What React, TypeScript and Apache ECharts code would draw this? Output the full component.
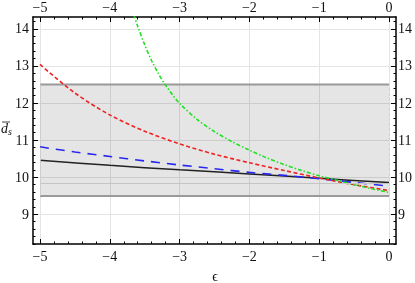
import React, { useEffect, useRef } from "react";
import * as echarts from "echarts";

// ---- data ----
const xTicks = [-5, -4, -3, -2, -1, 0];
const yTicks = [9, 10, 11, 12, 13, 14];

const epsBlack = [-5, -4, -3, -2, -1, 0];
const blackVals = [10.46, 10.32, 10.2, 10.09, 9.97, 9.86];

const epsHalf = [-5, -4.5, -4, -3.5, -3, -2.5, -2, -1.5, -1, -0.5, 0];
const blueVals = [10.82, 10.68, 10.56, 10.44, 10.33, 10.23, 10.13, 10.05, 9.96, 9.86, 9.76];
const redVals = [13.04, 12.27, 11.68, 11.24, 10.9, 10.62, 10.39, 10.18, 9.98, 9.8, 9.64];

const epsGreen = [-3.7, -3.6, -3.5, -3.4, -3.3, -3.2, -3.1, -3, -2.75, -2.5, -2.25, -2, -1.75, -1.5, -1.25, -1, -0.75, -0.5, -0.25, 0];
const greenVals = [14.63, 14.07, 13.57, 13.14, 12.78, 12.48, 12.22, 11.99, 11.56, 11.23, 10.96, 10.73, 10.52, 10.34, 10.18, 10.04, 9.92, 9.8, 9.69, 9.59];

const bandX = [-5, 0];
const bandY = [9.5, 12.5];
const bandInner = 9.83;

const X_MIN = -5.1;
const X_MAX = 0.1;
const Y_MIN = 8.2;
const Y_MAX = 14.32;

const xMinor: number[] = [];
for (let i = 0; i <= 25; i++) xMinor.push(Math.round((-5 + i * 0.2) * 10) / 10);
const yMinor: number[] = [];
for (let i = 0; i <= 30; i++) yMinor.push(Math.round((8.2 + i * 0.2) * 10) / 10);

const FONT = "'Liberation Serif', 'DejaVu Serif', serif";
const fmt = (v: number) => (v < 0 ? "\u2212" + Math.abs(v) : String(Math.round(v)));

function pairs(xs: number[], ys: number[]) {
  return xs.map((x, i) => [x, ys[i]]);
}

function xAxis(pos: string, ticks: number[], len: number, labels: boolean, split: boolean, line: boolean) {
  return {
    type: "value",
    min: X_MIN,
    max: X_MAX,
    position: pos,
    axisLine: { show: line, onZero: false, lineStyle: { color: "#000", width: 1.5 } },
    axisTick: { show: true, inside: true, length: len, customValues: ticks, lineStyle: { color: "#000", width: 1 } },
    axisLabel: labels
      ? { show: true, customValues: xTicks, formatter: fmt, margin: pos === "top" ? 3 : 5, fontFamily: FONT, fontSize: 14, color: "#111" }
      : { show: false },
    splitLine: { show: split, lineStyle: { color: "#e4e4e4", width: 1 } },
  };
}

function yAxis(pos: string, ticks: number[], len: number, labels: boolean, split: boolean, line: boolean) {
  return {
    type: "value",
    min: Y_MIN,
    max: Y_MAX,
    position: pos,
    axisLine: { show: line, onZero: false, lineStyle: { color: "#000", width: 1.5 } },
    axisTick: { show: true, inside: true, length: len, customValues: ticks, lineStyle: { color: "#000", width: 1 } },
    axisLabel: labels
      ? { show: true, customValues: yTicks, formatter: fmt, margin: pos === "left" ? 4 : 2, fontFamily: FONT, fontSize: 14, color: "#111" }
      : { show: false },
    splitLine: { show: split, lineStyle: { color: "#e4e4e4", width: 1 } },
  };
}

export default function App() {
  const ref = useRef<HTMLDivElement>(null);
  useEffect(() => {
    if (!ref.current) return;
    const chart = echarts.init(ref.current, null, { renderer: "svg" });
    const gray = "#9a9a9a";
    chart.setOption({
      animation: false,
      grid: { left: 33, right: 18, top: 17, bottom: 39, containLabel: false },
      xAxis: [
        xAxis("bottom", xTicks, 5, true, true, true),
        xAxis("top", xTicks, 5, true, false, true),
        xAxis("bottom", xMinor, 2.5, false, false, false),
        xAxis("top", xMinor, 2.5, false, false, false),
      ],
      yAxis: [
        yAxis("left", yTicks, 5, true, true, true),
        yAxis("right", yTicks, 5, true, false, true),
        yAxis("left", yMinor, 2.5, false, false, false),
        yAxis("right", yMinor, 2.5, false, false, false),
      ],
      graphic: [
        {
          type: "text",
          left: 1,
          top: 121,
          style: {
            text: "{d|d}{s|s}",
            rich: {
              d: { fontFamily: FONT, fontStyle: "italic", fontSize: 14, fill: "#111" },
              s: { fontFamily: FONT, fontStyle: "italic", fontSize: 10, fill: "#111", padding: [6, 0, 0, 0] },
            },
          },
        },
        {
          type: "line",
          shape: { x1: 2, y1: 122, x2: 10, y2: 122 },
          style: { stroke: "#111", lineWidth: 0.8 },
        },
        {
          type: "text",
          x: 215,
          y: 276,
          style: { text: "\u03F5", fontFamily: FONT, fontSize: 14, fill: "#111", align: "center", verticalAlign: "middle" },
        },
      ],
      series: [
        {
          type: "line",
          z: 1,
          data: pairs(bandX, [bandY[1], bandY[1]]),
          showSymbol: false,
          symbol: "none",
          lineStyle: { color: gray, width: 1.8 },
          silent: true,
          markArea: {
            silent: true,
            itemStyle: { color: "rgba(0,0,0,0.1)" },
            data: [[{ coord: [bandX[0], bandY[0]] }, { coord: [bandX[1], bandY[1]] }]],
          },
          markLine: {
            silent: true,
            symbol: "none",
            label: { show: false },
            data: [
              [
                { coord: [bandX[0], bandY[0]], lineStyle: { color: gray, width: 1.8, type: "solid" } },
                { coord: [bandX[1], bandY[0]] },
              ],
              [
                { coord: [bandX[0], bandInner], lineStyle: { color: "#c4c4c4", width: 1, type: "solid" } },
                { coord: [bandX[1], bandInner] },
              ],
              [
                { coord: [bandX[0], bandY[0]], lineStyle: { color: "#cfcfcf", width: 1, type: [3, 2] } },
                { coord: [bandX[0], bandY[1]] },
              ],
              [
                { coord: [bandX[1], bandY[0]], lineStyle: { color: "#cfcfcf", width: 1, type: [3, 2] } },
                { coord: [bandX[1], bandY[1]] },
              ],
            ],
          },
        },
        {
          type: "line",
          z: 3,
          data: pairs(epsBlack, blackVals),
          smooth: 0.3,
          showSymbol: false,
          symbol: "none",
          lineStyle: { color: "#222", width: 1.5 },
        },
        {
          type: "line",
          z: 3,
          data: pairs(epsHalf, blueVals),
          smooth: 0.3,
          showSymbol: false,
          symbol: "none",
          lineStyle: { color: "#2727f0", width: 1.6, type: [9, 7] },
        },
        {
          type: "line",
          z: 3,
          data: pairs(epsHalf, redVals),
          smooth: 0.3,
          showSymbol: false,
          symbol: "none",
          lineStyle: { color: "#ee2222", width: 1.6, type: [4, 2.5] },
        },
        {
          type: "line",
          z: 3,
          data: pairs(epsGreen, greenVals),
          smooth: 0.3,
          showSymbol: false,
          symbol: "none",
          lineStyle: { color: "#22e022", width: 1.6, type: [4, 2, 1.5, 2] },
        },
      ],
    });
    return () => chart.dispose();
  }, []);
  return <div ref={ref} style={{ position: "fixed", left: 0, top: 0, width: 415, height: 283 }} />;
}
